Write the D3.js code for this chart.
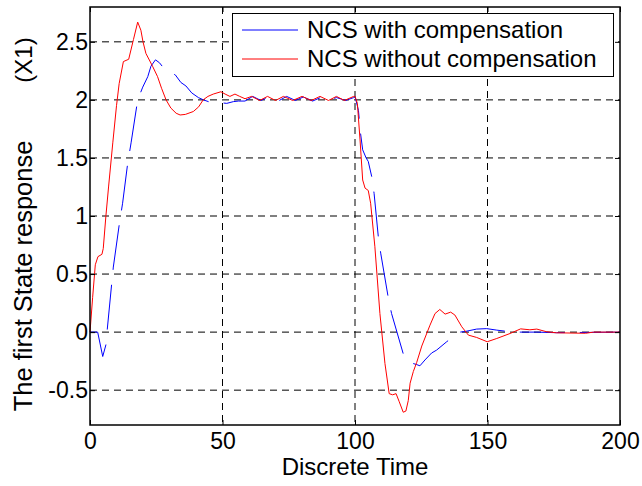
<!DOCTYPE html>
<html>
<head>
<meta charset="utf-8">
<script src="https://cdn.jsdelivr.net/npm/d3@7"></script>
<style>
    body { margin: 0; background: #fff; }
    text { font-family: "Liberation Sans", Arial, sans-serif; }
</style>
</head>
<body>
<div id="wrapper"></div>
<script>
// values
const redTime = [0, 1, 2, 3, 4.5, 5, 6, 7, 8.6, 10, 11, 12.6, 14.6, 16.4, 18, 19.2, 20, 21.1, 23.6, 25.5, 27, 28.7, 30.5, 32.5, 34, 36, 39, 41, 42.7, 44.5, 46.5, 49.4, 51, 52.8, 54.7, 56.5, 58.5, 61, 64, 67, 70, 73, 76.5, 80, 83.5, 86.8, 90, 93, 96, 99.5, 100, 100.9, 101.9, 102.9, 103.8, 105, 105.9, 107.5, 109.4, 111.3, 112.9, 114.2, 115.5, 116.7, 118.2, 119.2, 120.1, 120.8, 122, 123.3, 125.2, 128.3, 130.2, 132, 134, 136.1, 137.7, 140.3, 142.8, 145.9, 149.9, 153.5, 158.5, 162.5, 166, 168.6, 172.3, 176, 187, 190, 200];
const redValue = [0, 0.3, 0.58, 0.65, 0.67, 0.72, 1.0, 1.25, 1.63, 1.95, 2.14, 2.33, 2.35, 2.52, 2.67, 2.6, 2.5, 2.4, 2.29, 2.2, 2.1, 2.0, 1.93, 1.885, 1.87, 1.875, 1.9, 1.94, 2.0, 2.03, 2.05, 2.07, 2.05, 2.03, 2.05, 2.03, 2.01, 2.03, 1.995, 2.03, 1.995, 2.03, 1.995, 2.03, 1.995, 2.03, 1.995, 2.03, 1.995, 2.03, 2.03, 1.97, 1.655, 1.31, 1.24, 1.22, 1.11, 0.735, 0.16, -0.27, -0.53, -0.54, -0.53, -0.6, -0.69, -0.68, -0.59, -0.44, -0.34, -0.26, -0.12, 0.06, 0.16, 0.195, 0.155, 0.172, 0.147, 0.046, -0.026, -0.046, -0.083, -0.055, -0.012, 0.028, 0.02, 0.026, 0.003, -0.006, -0.01, 0, 0];

const blueTime = [0, 2.9, 4.8, 6, 6.5, 8.2, 8.8, 11, 12.3, 14.2, 15.5, 18, 19.9, 21.8, 23, 24.7, 26.2, 28.3, 30, 32.2, 34.3, 36.2, 38.4, 40.9, 42.8, 44.7, 47, 49.5, 51.6, 54.1, 56, 58.5, 61.4, 64.5, 67.5, 71, 74.2, 77.5, 80.5, 84, 87, 90, 93, 96.5, 99.5, 100, 101.3, 102.1, 102.9, 104.2, 105, 106.3, 107.2, 108.8, 109.7, 112.6, 113.8, 118.5, 120.5, 123.3, 124.5, 126.4, 128.9, 130.8, 134.6, 137.1, 139.6, 141.5, 145.9, 149.7, 153.5, 158.5, 162.3, 168.6, 176, 200];
const blueValue = [0, 0, -0.21, -0.11, 0.02, 0.42, 0.56, 0.92, 1.11, 1.45, 1.63, 2.0, 2.11, 2.2, 2.29, 2.345, 2.32, 2.26, 2.24, 2.215, 2.15, 2.12, 2.06, 2.02, 2.0, 1.985, 1.98, 1.975, 1.97, 1.985, 1.99, 1.99, 2.03, 1.995, 2.025, 1.99, 2.03, 1.995, 2.025, 1.99, 2.02, 1.995, 2.02, 1.995, 2.02, 2.03, 1.91, 1.71, 1.57, 1.5, 1.47, 1.34, 1.195, 0.82, 0.68, 0.29, 0.16, -0.21, -0.26, -0.28, -0.29, -0.24, -0.18, -0.155, -0.083, -0.04, 0, 0.005, 0.026, 0.03, 0.017, 0.003, 0, 0, -0.005, 0];

const xTicks = [0, 50, 100, 150, 200];
const yTicks = [-0.5, 0, 0.5, 1, 1.5, 2, 2.5];
const seriesNames = ["NCS with compensation", "NCS without compensation"];
const seriesColors = ["#0000ff", "#ff0000"];

function buildPlot() {
    var dimension = {
        width: 642,
        height: 486,
        margin: {
            top: 7,
            left: 90,
            bottom: 61,
            right: 22
        }
    };
    dimension.boundedWidth = dimension.width - dimension.margin.left - dimension.margin.right;
    dimension.boundedHeight = dimension.height - dimension.margin.top - dimension.margin.bottom;

    const svg = d3.select("#wrapper").append("svg")
        .attr("width", dimension.width)
        .attr("height", dimension.height);
    const bounded = svg.append("g")
        .attr("transform", `translate(${dimension.margin.left}, ${dimension.margin.top})`);

    const xScale = d3.scaleLinear()
        .domain([0, 200])
        .range([0, dimension.boundedWidth]);
    const yScale = d3.scaleLinear()
        .domain([-0.8, 2.8])
        .range([dimension.boundedHeight, 0]);

    // dashed grid
    bounded.append("g").selectAll("line")
        .data(xTicks.slice(1, -1))
        .join("line")
        .attr("x1", d => xScale(d)).attr("x2", d => xScale(d))
        .attr("y1", 0).attr("y2", dimension.boundedHeight)
        .attr("stroke", "#000").attr("stroke-width", 1)
        .attr("stroke-dasharray", "7,5");
    bounded.append("g").selectAll("line")
        .data(yTicks)
        .join("line")
        .attr("x1", 0).attr("x2", dimension.boundedWidth)
        .attr("y1", d => yScale(d)).attr("y2", d => yScale(d))
        .attr("stroke", "#000").attr("stroke-width", 1)
        .attr("stroke-dasharray", "7,5");

    const line = d3.line()
        .x(d => xScale(d[0]))
        .y(d => yScale(d[1]));

    const blueData = blueTime.map((t, i) => [t, blueValue[i]]);
    const redData = redTime.map((t, i) => [t, redValue[i]]);

    bounded.append("path")
        .attr("d", line(blueData))
        .attr("fill", "none")
        .attr("stroke", seriesColors[0])
        .attr("stroke-width", 1)
        .attr("stroke-dasharray", "45,15");
    bounded.append("path")
        .attr("d", line(redData))
        .attr("fill", "none")
        .attr("stroke", seriesColors[1])
        .attr("stroke-width", 1);

    // axes with inward ticks
    const fmt = d => String(d);
    const xAxis = d3.axisBottom(xScale).tickValues(xTicks).tickSize(-5).tickPadding(8).tickFormat(fmt);
    const yAxis = d3.axisLeft(yScale).tickValues(yTicks).tickSize(-5).tickPadding(2).tickFormat(fmt);
    const xTop = d3.axisTop(xScale).tickValues(xTicks).tickSize(-5).tickFormat("");
    const yRight = d3.axisRight(yScale).tickValues(yTicks).tickSize(-5).tickFormat("");

    const gx = bounded.append("g")
        .attr("transform", `translate(0, ${dimension.boundedHeight})`)
        .call(xAxis);
    const gy = bounded.append("g").call(yAxis);
    const gt = bounded.append("g").call(xTop);
    const gr = bounded.append("g")
        .attr("transform", `translate(${dimension.boundedWidth}, 0)`)
        .call(yRight);
    [gx, gy, gt, gr].forEach(g => {
        g.select(".domain").remove();
        g.selectAll("line").attr("stroke", "#000");
        g.selectAll("text").attr("fill", "#000").style("font-size", "23px");
    });

    bounded.append("rect")
        .attr("width", dimension.boundedWidth)
        .attr("height", dimension.boundedHeight)
        .attr("fill", "none")
        .attr("stroke", "#000")
        .attr("stroke-width", 1.5);

    // axis titles
    svg.append("text")
        .attr("x", dimension.margin.left + dimension.boundedWidth / 2)
        .attr("y", 475)
        .attr("text-anchor", "middle")
        .style("font-size", "24px")
        .text("Discrete Time");
    svg.append("text")
        .attr("transform", "translate(32, 276) rotate(-90)")
        .attr("text-anchor", "middle")
        .style("font-size", "25.5px")
        .text("The first State response");
    svg.append("text")
        .attr("transform", "translate(32, 60) rotate(-90)")
        .attr("text-anchor", "middle")
        .style("font-size", "24px")
        .text("(X1)");

    // legend
    const legend = svg.append("g");
    legend.append("rect")
        .attr("x", 232.5).attr("y", 13.5)
        .attr("width", 381).attr("height", 63)
        .attr("fill", "#fff")
        .attr("stroke", "#000")
        .attr("stroke-width", 1);
    seriesNames.forEach((name, i) => {
        const yy = 30 + i * 29;
        legend.append("line")
            .attr("x1", 242).attr("x2", 298)
            .attr("y1", yy).attr("y2", yy)
            .attr("stroke", seriesColors[i]);
        legend.append("text")
            .attr("x", 307).attr("y", yy + 8)
            .style("font-size", "24px")
            .text(name);
    });
}

buildPlot();
</script>
</body>
</html>
